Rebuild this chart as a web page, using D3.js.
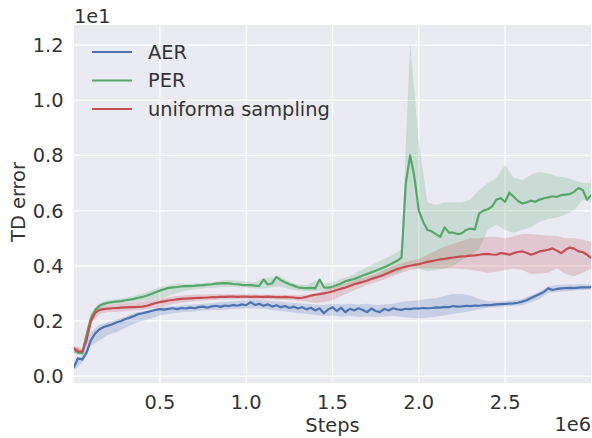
<!DOCTYPE html>
<html>
<head>
<meta charset="utf-8">
<script src="https://cdn.jsdelivr.net/npm/d3@7"></script>
<style>
  html, body { margin: 0; padding: 0; background: #fff; }
  #chart { width: 592px; height: 438px; }
  svg { display: block; font-family: 'DejaVu Sans', sans-serif; }
</style>
</head>
<body>
<div id="chart"></div>
<script>
// 曲线采样步数（单位 1e6），阴影带用粗一点的网格
const steps = d3.range(121).map(i => i * 0.025);
const bandSteps = d3.range(61).map(i => i * 0.05);

const seriesNames = ['AER', 'PER', 'uniforma sampling'];
const xTicks = [0.5, 1.0, 1.5, 2.0, 2.5];
const yTicks = [0.0, 0.2, 0.4, 0.6, 0.8, 1.0, 1.2];

// TD error 均值（单位 1e1）
const aerMean = [
  0.03, 0.065, 0.06, 0.085, 0.13, 0.155, 0.17, 0.178, 0.183, 0.188,
  0.195, 0.2, 0.207, 0.212, 0.218, 0.225, 0.228, 0.232, 0.236, 0.24,
  0.243, 0.241, 0.244, 0.246, 0.243, 0.247, 0.245, 0.248, 0.246, 0.25,
  0.252, 0.248, 0.253, 0.255, 0.251, 0.256, 0.254, 0.258, 0.255, 0.26,
  0.257, 0.268, 0.258, 0.262, 0.255, 0.26, 0.252, 0.257, 0.25, 0.254,
  0.247, 0.252, 0.245, 0.25, 0.242, 0.248, 0.238, 0.246, 0.228, 0.242,
  0.25, 0.236, 0.248, 0.232, 0.244, 0.238, 0.246, 0.24, 0.232, 0.245,
  0.236, 0.232, 0.244, 0.238, 0.246, 0.242, 0.24, 0.244, 0.243, 0.246,
  0.245, 0.247, 0.246, 0.247, 0.249, 0.248, 0.251, 0.25, 0.254, 0.252,
  0.253, 0.255, 0.254, 0.256, 0.255, 0.257, 0.257, 0.258, 0.26, 0.261,
  0.262, 0.263, 0.264, 0.266, 0.27, 0.275, 0.283, 0.29, 0.298, 0.305,
  0.318, 0.312, 0.316, 0.318, 0.319, 0.32, 0.319, 0.321, 0.322, 0.322, 0.323
];
const perMean = [
  0.10, 0.085, 0.083, 0.15, 0.21, 0.24, 0.255, 0.262, 0.266, 0.268,
  0.27, 0.272, 0.275, 0.277, 0.28, 0.284, 0.287, 0.292, 0.298, 0.304,
  0.31, 0.315, 0.32, 0.322, 0.323, 0.325, 0.326, 0.326, 0.327, 0.329,
  0.33, 0.332, 0.333, 0.335, 0.336, 0.337, 0.336, 0.334, 0.333, 0.331,
  0.33, 0.33, 0.328, 0.327, 0.35, 0.332, 0.336, 0.36, 0.348, 0.34,
  0.333, 0.328, 0.322, 0.32, 0.319, 0.32, 0.318, 0.35, 0.322, 0.321,
  0.324, 0.33, 0.336, 0.344, 0.348, 0.352, 0.358, 0.365, 0.37, 0.376,
  0.382, 0.388, 0.395, 0.402, 0.41, 0.418, 0.43, 0.70, 0.80, 0.72,
  0.60, 0.56, 0.53, 0.525, 0.515, 0.505, 0.54, 0.52, 0.52, 0.515,
  0.518, 0.53, 0.535, 0.532, 0.59, 0.60, 0.605, 0.615, 0.64, 0.645,
  0.632, 0.665, 0.65, 0.635, 0.626, 0.63, 0.636, 0.632, 0.64, 0.645,
  0.648, 0.652, 0.65, 0.656, 0.658, 0.66, 0.668, 0.682, 0.675, 0.64, 0.656
];
const uniMean = [
  0.10, 0.09, 0.088, 0.13, 0.2, 0.23, 0.24, 0.243, 0.245, 0.246,
  0.247, 0.248, 0.249, 0.25, 0.25, 0.251, 0.252, 0.255, 0.26, 0.265,
  0.268, 0.271, 0.274, 0.276, 0.278, 0.28, 0.281, 0.282, 0.283, 0.284,
  0.284, 0.285, 0.286, 0.286, 0.287, 0.287, 0.288, 0.288, 0.287, 0.288,
  0.288, 0.287, 0.288, 0.287, 0.287, 0.288, 0.287, 0.286, 0.286, 0.287,
  0.286, 0.285, 0.283, 0.284, 0.287, 0.292, 0.295, 0.297, 0.3, 0.303,
  0.307, 0.312, 0.317, 0.321, 0.327, 0.333, 0.337, 0.341, 0.346, 0.352,
  0.357, 0.362, 0.368, 0.375, 0.382, 0.388, 0.393, 0.397, 0.4, 0.403,
  0.406, 0.41, 0.414, 0.417, 0.42, 0.423, 0.425, 0.428, 0.43, 0.432,
  0.434, 0.435, 0.437, 0.438, 0.44, 0.442, 0.443, 0.441, 0.44, 0.446,
  0.444, 0.44, 0.446, 0.45, 0.452, 0.447, 0.44, 0.445, 0.452, 0.455,
  0.458, 0.463, 0.455, 0.446, 0.458, 0.466, 0.462, 0.452, 0.45, 0.44, 0.428
];

// 阴影带上下界
const aerLow = [
  0.02, 0.05, 0.11, 0.13, 0.15, 0.16, 0.175, 0.19, 0.2, 0.21,
  0.22, 0.225, 0.23, 0.232, 0.234, 0.238, 0.24, 0.24, 0.242, 0.244,
  0.245, 0.246, 0.244, 0.24, 0.236, 0.232, 0.228, 0.226, 0.222, 0.218,
  0.22, 0.215, 0.218, 0.214, 0.216, 0.214, 0.216, 0.218, 0.215, 0.212,
  0.21, 0.212, 0.215, 0.22, 0.226, 0.23, 0.236, 0.242, 0.248, 0.25,
  0.252, 0.255, 0.258, 0.268, 0.28, 0.302, 0.305, 0.308, 0.31, 0.312, 0.314
];
const aerHigh = [
  0.045, 0.075, 0.16, 0.185, 0.195, 0.205, 0.215, 0.228, 0.235, 0.24,
  0.25, 0.252, 0.254, 0.258, 0.26, 0.262, 0.265, 0.268, 0.27, 0.272,
  0.275, 0.278, 0.275, 0.272, 0.27, 0.266, 0.264, 0.262, 0.26, 0.258,
  0.262, 0.26, 0.262, 0.26, 0.262, 0.258, 0.26, 0.262, 0.27, 0.272,
  0.275, 0.28, 0.283, 0.29, 0.298, 0.298, 0.292, 0.28, 0.272, 0.27,
  0.272, 0.275, 0.28, 0.292, 0.306, 0.326, 0.33, 0.332, 0.332, 0.332, 0.332
];
const perLow = [
  0.08, 0.075, 0.19, 0.245, 0.258, 0.262, 0.266, 0.27, 0.272, 0.275,
  0.28, 0.29, 0.3, 0.31, 0.315, 0.318, 0.32, 0.322, 0.324, 0.322,
  0.32, 0.318, 0.318, 0.322, 0.325, 0.315, 0.31, 0.308, 0.308, 0.31,
  0.315, 0.325, 0.33, 0.338, 0.345, 0.352, 0.36, 0.37, 0.38, 0.4,
  0.39, 0.38, 0.385, 0.39, 0.4, 0.42, 0.44, 0.46, 0.53, 0.55,
  0.53, 0.52, 0.53, 0.54, 0.56, 0.57, 0.575, 0.585, 0.6, 0.64, 0.63
];
const perHigh = [
  0.11, 0.095, 0.23, 0.265, 0.276, 0.28, 0.284, 0.29, 0.3, 0.31,
  0.322, 0.33, 0.335, 0.335, 0.336, 0.338, 0.34, 0.345, 0.348, 0.346,
  0.342, 0.34, 0.355, 0.358, 0.36, 0.342, 0.332, 0.33, 0.345, 0.335,
  0.34, 0.352, 0.362, 0.378, 0.395, 0.41, 0.425, 0.44, 0.46, 1.21,
  0.85, 0.63, 0.62, 0.63, 0.63, 0.63, 0.64, 0.675, 0.7, 0.72,
  0.765, 0.72, 0.71, 0.73, 0.74, 0.735, 0.725, 0.72, 0.71, 0.70, 0.70
];
const uniLow = [
  0.085, 0.08, 0.19, 0.225, 0.232, 0.232, 0.235, 0.238, 0.24, 0.245,
  0.25, 0.258, 0.264, 0.268, 0.272, 0.274, 0.276, 0.278, 0.279, 0.279,
  0.279, 0.279, 0.278, 0.278, 0.277, 0.276, 0.274, 0.27, 0.265, 0.268,
  0.275, 0.29, 0.305, 0.318, 0.33, 0.34, 0.35, 0.362, 0.375, 0.385,
  0.39, 0.392, 0.39, 0.39, 0.39, 0.388, 0.386, 0.38, 0.374, 0.378,
  0.385, 0.39, 0.385, 0.37, 0.372, 0.375, 0.39, 0.37, 0.362, 0.375, 0.39
];
const uniHigh = [
  0.11, 0.1, 0.225, 0.25, 0.258, 0.262, 0.265, 0.268, 0.27, 0.274,
  0.28, 0.286, 0.29, 0.293, 0.295, 0.296, 0.297, 0.297, 0.297, 0.297,
  0.297, 0.296, 0.296, 0.296, 0.295, 0.295, 0.293, 0.296, 0.3, 0.31,
  0.32, 0.33, 0.34, 0.352, 0.36, 0.37, 0.385, 0.4, 0.41, 0.418,
  0.425, 0.44, 0.455, 0.47, 0.48, 0.49, 0.5, 0.5, 0.505, 0.505,
  0.5, 0.508, 0.515, 0.515, 0.512, 0.51, 0.508, 0.5, 0.5, 0.495, 0.486
];

class TdErrorChart {

  constructor(id) {
    this.id = id;
    // 边距
    this.margin = { top: 25, right: 1, bottom: 55, left: 74 };
    this.width = 592;
    this.height = 438;
    this.innerWidth = this.width - this.margin.left - this.margin.right;
    this.innerHeight = this.height - this.margin.top - this.margin.bottom;
    this.colors = ['#4C72B0', '#55A868', '#C44E52'];
    this.textColor = '#333333';
    this.fontSize = 19.4;
    this.series = [
      { mean: aerMean, low: aerLow, high: aerHigh },
      { mean: perMean, low: perLow, high: perHigh },
      { mean: uniMean, low: uniLow, high: uniHigh }
    ];
    this.init();
  }
  init() {
    this.initSvg();
    this.initScale();
    this.initGrid();
    this.initBands();
    this.initLines();
    this.initAxisText();
    this.initLegend();
  }
  initSvg() {
    this.svg = d3.select(`#${this.id}`)
      .append('svg')
      .attr('width', this.width)
      .attr('height', this.height);
    this.mg = this.svg.append('g')
      .attr('transform', `translate(${this.margin.left},${this.margin.top})`);
    this.mg.append('rect')
      .attr('width', this.innerWidth)
      .attr('height', this.innerHeight)
      .attr('fill', '#EAEAF2');
    this.mg.append('clipPath')
      .attr('id', 'plotClip')
      .append('rect')
      .attr('width', this.innerWidth)
      .attr('height', this.innerHeight);
  }
  initScale() {
    this.xScale = d3.scaleLinear()
      .domain([0.002, 2.998])
      .range([0, this.innerWidth]);
    this.yScale = d3.scaleLinear()
      .domain([-0.025, 1.273])
      .range([this.innerHeight, 0]);
  }
  initGrid() {
    // 白色网格线
    const grid = this.mg.append('g').attr('stroke', '#fff').attr('stroke-width', 1.25);
    grid.selectAll('.vx').data(xTicks).join('line')
      .attr('x1', d => this.xScale(d)).attr('x2', d => this.xScale(d))
      .attr('y1', 0).attr('y2', this.innerHeight);
    grid.selectAll('.hy').data(yTicks).join('line')
      .attr('y1', d => this.yScale(d)).attr('y2', d => this.yScale(d))
      .attr('x1', 0).attr('x2', this.innerWidth);
  }
  initBands() {
    const area = d3.area()
      .x((d, i) => this.xScale(bandSteps[i]))
      .y0(d => this.yScale(d[0]))
      .y1(d => this.yScale(d[1]));
    const g = this.mg.append('g').attr('clip-path', 'url(#plotClip)');
    this.series.forEach((s, k) => {
      g.append('path')
        .datum(s.low.map((v, i) => [v, s.high[i]]))
        .attr('d', area)
        .attr('fill', this.colors[k])
        .attr('fill-opacity', 0.22);
    });
  }
  initLines() {
    const line = d3.line()
      .x((d, i) => this.xScale(steps[i]))
      .y(d => this.yScale(d));
    const g = this.mg.append('g').attr('clip-path', 'url(#plotClip)');
    this.series.forEach((s, k) => {
      g.append('path')
        .datum(s.mean)
        .attr('d', line)
        .attr('fill', 'none')
        .attr('stroke', this.colors[k])
        .attr('stroke-width', 2.2)
        .attr('stroke-linejoin', 'round');
    });
  }
  initAxisText() {
    const t = this.mg.append('g')
      .attr('fill', this.textColor)
      .attr('font-size', this.fontSize);
    // x 轴刻度
    t.selectAll('.xt').data(xTicks).join('text')
      .attr('x', d => this.xScale(d))
      .attr('y', this.innerHeight + 26)
      .attr('text-anchor', 'middle')
      .text(d => d3.format('.1f')(d));
    // y 轴刻度
    t.selectAll('.yt').data(yTicks).join('text')
      .attr('x', -10.5)
      .attr('y', d => this.yScale(d))
      .attr('dy', '0.36em')
      .attr('text-anchor', 'end')
      .text(d => d3.format('.1f')(d));
    t.append('text')
      .attr('x', this.innerWidth / 2)
      .attr('y', this.innerHeight + 48.5)
      .attr('text-anchor', 'middle')
      .text('Steps');
    t.append('text')
      .attr('transform', `translate(${25 - this.margin.left},${this.innerHeight / 2 - 2}) rotate(-90)`)
      .attr('text-anchor', 'middle')
      .text('TD error');
    // 科学计数偏移
    t.append('text')
      .attr('x', 0)
      .attr('y', -2.5)
      .text('1e1');
    t.append('text')
      .attr('x', this.innerWidth)
      .attr('y', this.innerHeight + 47.5)
      .attr('text-anchor', 'end')
      .text('1e6');
  }
  initLegend() {
    const lg = this.svg.append('g')
      .attr('font-size', this.fontSize)
      .attr('fill', this.textColor);
    const items = lg.selectAll('g').data(seriesNames).join('g')
      .attr('transform', (d, i) => `translate(92,${52 + i * 28.5})`);
    items.append('line')
      .attr('x1', 0).attr('x2', 40)
      .attr('stroke', (d, i) => this.colors[i])
      .attr('stroke-width', 2.2);
    items.append('text')
      .attr('x', 56)
      .attr('dy', '0.36em')
      .text(d => d);
  }
}

new TdErrorChart('chart');
</script>
</body>
</html>
